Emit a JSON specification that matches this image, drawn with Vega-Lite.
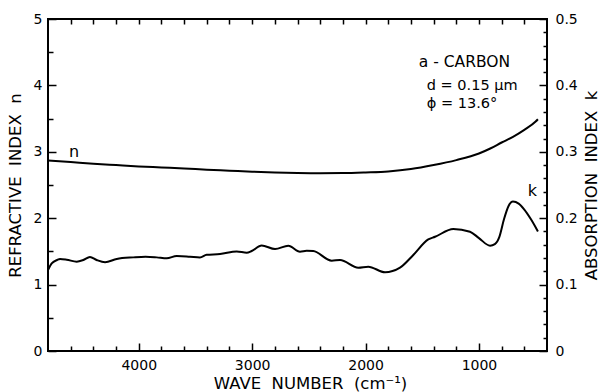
{
  "$schema": "https://vega.github.io/schema/vega-lite/v6.json",
  "width": 499,
  "height": 332,
  "autosize": "none",
  "padding": {"left": 48, "top": 19, "right": 55, "bottom": 41},
  "config": {
    "view": {"stroke": "black", "strokeWidth": 2},
    "font": "DejaVu Sans",
    "axis": {
      "grid": false,
      "domain": false,
      "tickColor": "black",
      "tickWidth": 1.5,
      "labelColor": "black",
      "titleColor": "black",
      "labelFont": "DejaVu Sans",
      "titleFont": "DejaVu Sans",
      "labelFontSize": 14,
      "titleFontSize": 16.5,
      "titleFontWeight": "normal",
      "labelFlush": false,
      "labelOverlap": false,
      "labelBound": false
    }
  },
  "datasets": {
    "n": [
      {"w": 4800, "v": 2.87}, {"w": 4600, "v": 2.845}, {"w": 4400, "v": 2.82}, {"w": 4200, "v": 2.80},
      {"w": 4000, "v": 2.78}, {"w": 3800, "v": 2.765}, {"w": 3600, "v": 2.75}, {"w": 3400, "v": 2.73},
      {"w": 3200, "v": 2.715}, {"w": 3000, "v": 2.70}, {"w": 2800, "v": 2.69}, {"w": 2600, "v": 2.682},
      {"w": 2400, "v": 2.678}, {"w": 2200, "v": 2.68}, {"w": 2000, "v": 2.69}, {"w": 1800, "v": 2.705},
      {"w": 1600, "v": 2.74}, {"w": 1400, "v": 2.80}, {"w": 1200, "v": 2.875}, {"w": 1000, "v": 2.975},
      {"w": 900, "v": 3.05}, {"w": 800, "v": 3.14}, {"w": 700, "v": 3.225}, {"w": 600, "v": 3.33},
      {"w": 500, "v": 3.455}, {"w": 480, "v": 3.49}
    ],
    "k": [
      {"w": 4800, "v": 0.122}, {"w": 4767, "v": 0.132}, {"w": 4720, "v": 0.137}, {"w": 4694, "v": 0.1386},
      {"w": 4635, "v": 0.1375}, {"w": 4547, "v": 0.1345}, {"w": 4489, "v": 0.137}, {"w": 4430, "v": 0.1416},
      {"w": 4371, "v": 0.137}, {"w": 4297, "v": 0.1336}, {"w": 4194, "v": 0.1386}, {"w": 4048, "v": 0.141},
      {"w": 3940, "v": 0.142}, {"w": 3841, "v": 0.141}, {"w": 3753, "v": 0.1396}, {"w": 3665, "v": 0.143},
      {"w": 3548, "v": 0.142}, {"w": 3460, "v": 0.141}, {"w": 3401, "v": 0.145}, {"w": 3283, "v": 0.146},
      {"w": 3136, "v": 0.150}, {"w": 3048, "v": 0.148}, {"w": 3004, "v": 0.1506}, {"w": 2916, "v": 0.159},
      {"w": 2798, "v": 0.1536}, {"w": 2681, "v": 0.1586}, {"w": 2578, "v": 0.1496}, {"w": 2519, "v": 0.151},
      {"w": 2461, "v": 0.1506}, {"w": 2298, "v": 0.136}, {"w": 2225, "v": 0.137}, {"w": 2064, "v": 0.1255},
      {"w": 1976, "v": 0.127}, {"w": 1828, "v": 0.1185}, {"w": 1696, "v": 0.1255}, {"w": 1579, "v": 0.1446},
      {"w": 1447, "v": 0.168}, {"w": 1387, "v": 0.172}, {"w": 1226, "v": 0.1837}, {"w": 1079, "v": 0.1797},
      {"w": 1000, "v": 0.170}, {"w": 902, "v": 0.1586}, {"w": 860, "v": 0.161}, {"w": 820, "v": 0.172},
      {"w": 780, "v": 0.198}, {"w": 740, "v": 0.218}, {"w": 700, "v": 0.225}, {"w": 650, "v": 0.222},
      {"w": 600, "v": 0.213}, {"w": 540, "v": 0.198}, {"w": 480, "v": 0.18}
    ],
    "nlabels": [
      {"w": 4570, "v": 3.0, "t": "n"}
    ],
    "notes": [
      {"w": 1530, "v": 4.35, "t": "a\u00a0-\u00a0CARBON", "s": 15.5},
      {"w": 1460, "v": 3.99, "t": "d = 0.15 μm", "s": 14.5},
      {"w": 1460, "v": 3.72, "t": "ϕ = 13.6°", "s": 14.5}
    ],
    "klabels": [
      {"w": 530, "v": 0.241, "t": "k"}
    ]
  },
  "layer": [
    {
      "encoding": {
        "x": {
          "field": "w", "type": "quantitative",
          "scale": {"domain": [400, 4800], "reverse": true, "nice": false, "zero": false},
          "axis": {
            "orient": "bottom",
            "values": [600, 800, 1000, 1200, 1400, 1600, 1800, 2000, 2200, 2400, 2600, 2800, 3000, 3200, 3400, 3600, 3800, 4000, 4200, 4400, 4600],
            "tickSize": {"condition": {"test": "datum.value % 1000 === 0", "value": -8}, "value": -5},
            "labelExpr": "datum.value % 1000 === 0 ? format(datum.value, 'd') : ''",
            "labelPadding": 15,
            "title": "WAVE\u00a0 NUMBER\u00a0 (cm⁻¹)",
            "titleX": 262,
            "titlePadding": 0
          }
        },
        "y": {
          "field": "v", "type": "quantitative",
          "scale": {"domain": [0, 5], "nice": false},
          "axis": {
            "orient": "left",
            "values": [0, 0.5, 1, 1.5, 2, 2.5, 3, 3.5, 4, 4.5, 5],
            "tickSize": {"condition": {"test": "datum.value % 1 === 0", "value": -8}, "value": -5},
            "labelExpr": "datum.value % 1 === 0 ? format(datum.value, 'd') : ''",
            "labelPadding": 14,
            "title": "REFRACTIVE\u00a0 INDEX\u00a0 n",
            "titlePadding": 10
          }
        }
      },
      "layer": [
        {
          "data": {"name": "n"},
          "mark": {"type": "line", "color": "black", "strokeWidth": 2, "interpolate": "monotone"}
        },
        {
          "data": {"name": "nlabels"},
          "mark": {"type": "text", "fontSize": 16, "align": "center", "baseline": "middle", "color": "black"},
          "encoding": {"text": {"field": "t"}}
        },
        {
          "data": {"name": "notes"},
          "mark": {"type": "text", "align": "left", "baseline": "middle", "color": "black"},
          "encoding": {"text": {"field": "t"}, "size": {"field": "s", "type": "quantitative", "scale": null}}
        }
      ]
    },
    {
      "encoding": {
        "x": {
          "field": "w", "type": "quantitative",
          "scale": {"domain": [400, 4800], "reverse": true, "nice": false, "zero": false},
          "axis": {
            "orient": "top",
            "values": [600, 800, 1000, 1200, 1400, 1600, 1800, 2000, 2200, 2400, 2600, 2800, 3000, 3200, 3400, 3600, 3800, 4000, 4200, 4400, 4600],
            "tickSize": -5,
            "labels": false,
            "title": null
          }
        },
        "y": {
          "field": "v", "type": "quantitative",
          "scale": {"domain": [0, 0.5], "nice": false},
          "axis": {
            "orient": "right",
            "values": [0, 0.02, 0.04, 0.06, 0.08, 0.1, 0.12, 0.14, 0.16, 0.18, 0.2, 0.22, 0.24, 0.26, 0.28, 0.3, 0.32, 0.34, 0.36, 0.38, 0.4, 0.42, 0.44, 0.46, 0.48, 0.5],
            "tickSize": {"condition": {"test": "round(datum.value * 100) % 10 === 0", "value": -8}, "value": -4},
            "labelExpr": "round(datum.value * 100) % 10 === 0 ? (datum.value === 0 ? '0' : format(datum.value, '.1f')) : ''",
            "labelPadding": 16,
            "title": "ABSORPTION\u00a0 INDEX\u00a0 k",
            "titleAngle": -90,
            "titleBaseline": "top",
            "titlePadding": 6
          }
        }
      },
      "layer": [
        {
          "data": {"name": "k"},
          "mark": {"type": "line", "color": "black", "strokeWidth": 2, "interpolate": "monotone"}
        },
        {
          "data": {"name": "klabels"},
          "mark": {"type": "text", "fontSize": 16, "align": "center", "baseline": "middle", "color": "black"},
          "encoding": {"text": {"field": "t"}}
        }
      ]
    }
  ],
  "resolve": {"scale": {"y": "independent"}, "axis": {"x": "independent", "y": "independent"}}
}
